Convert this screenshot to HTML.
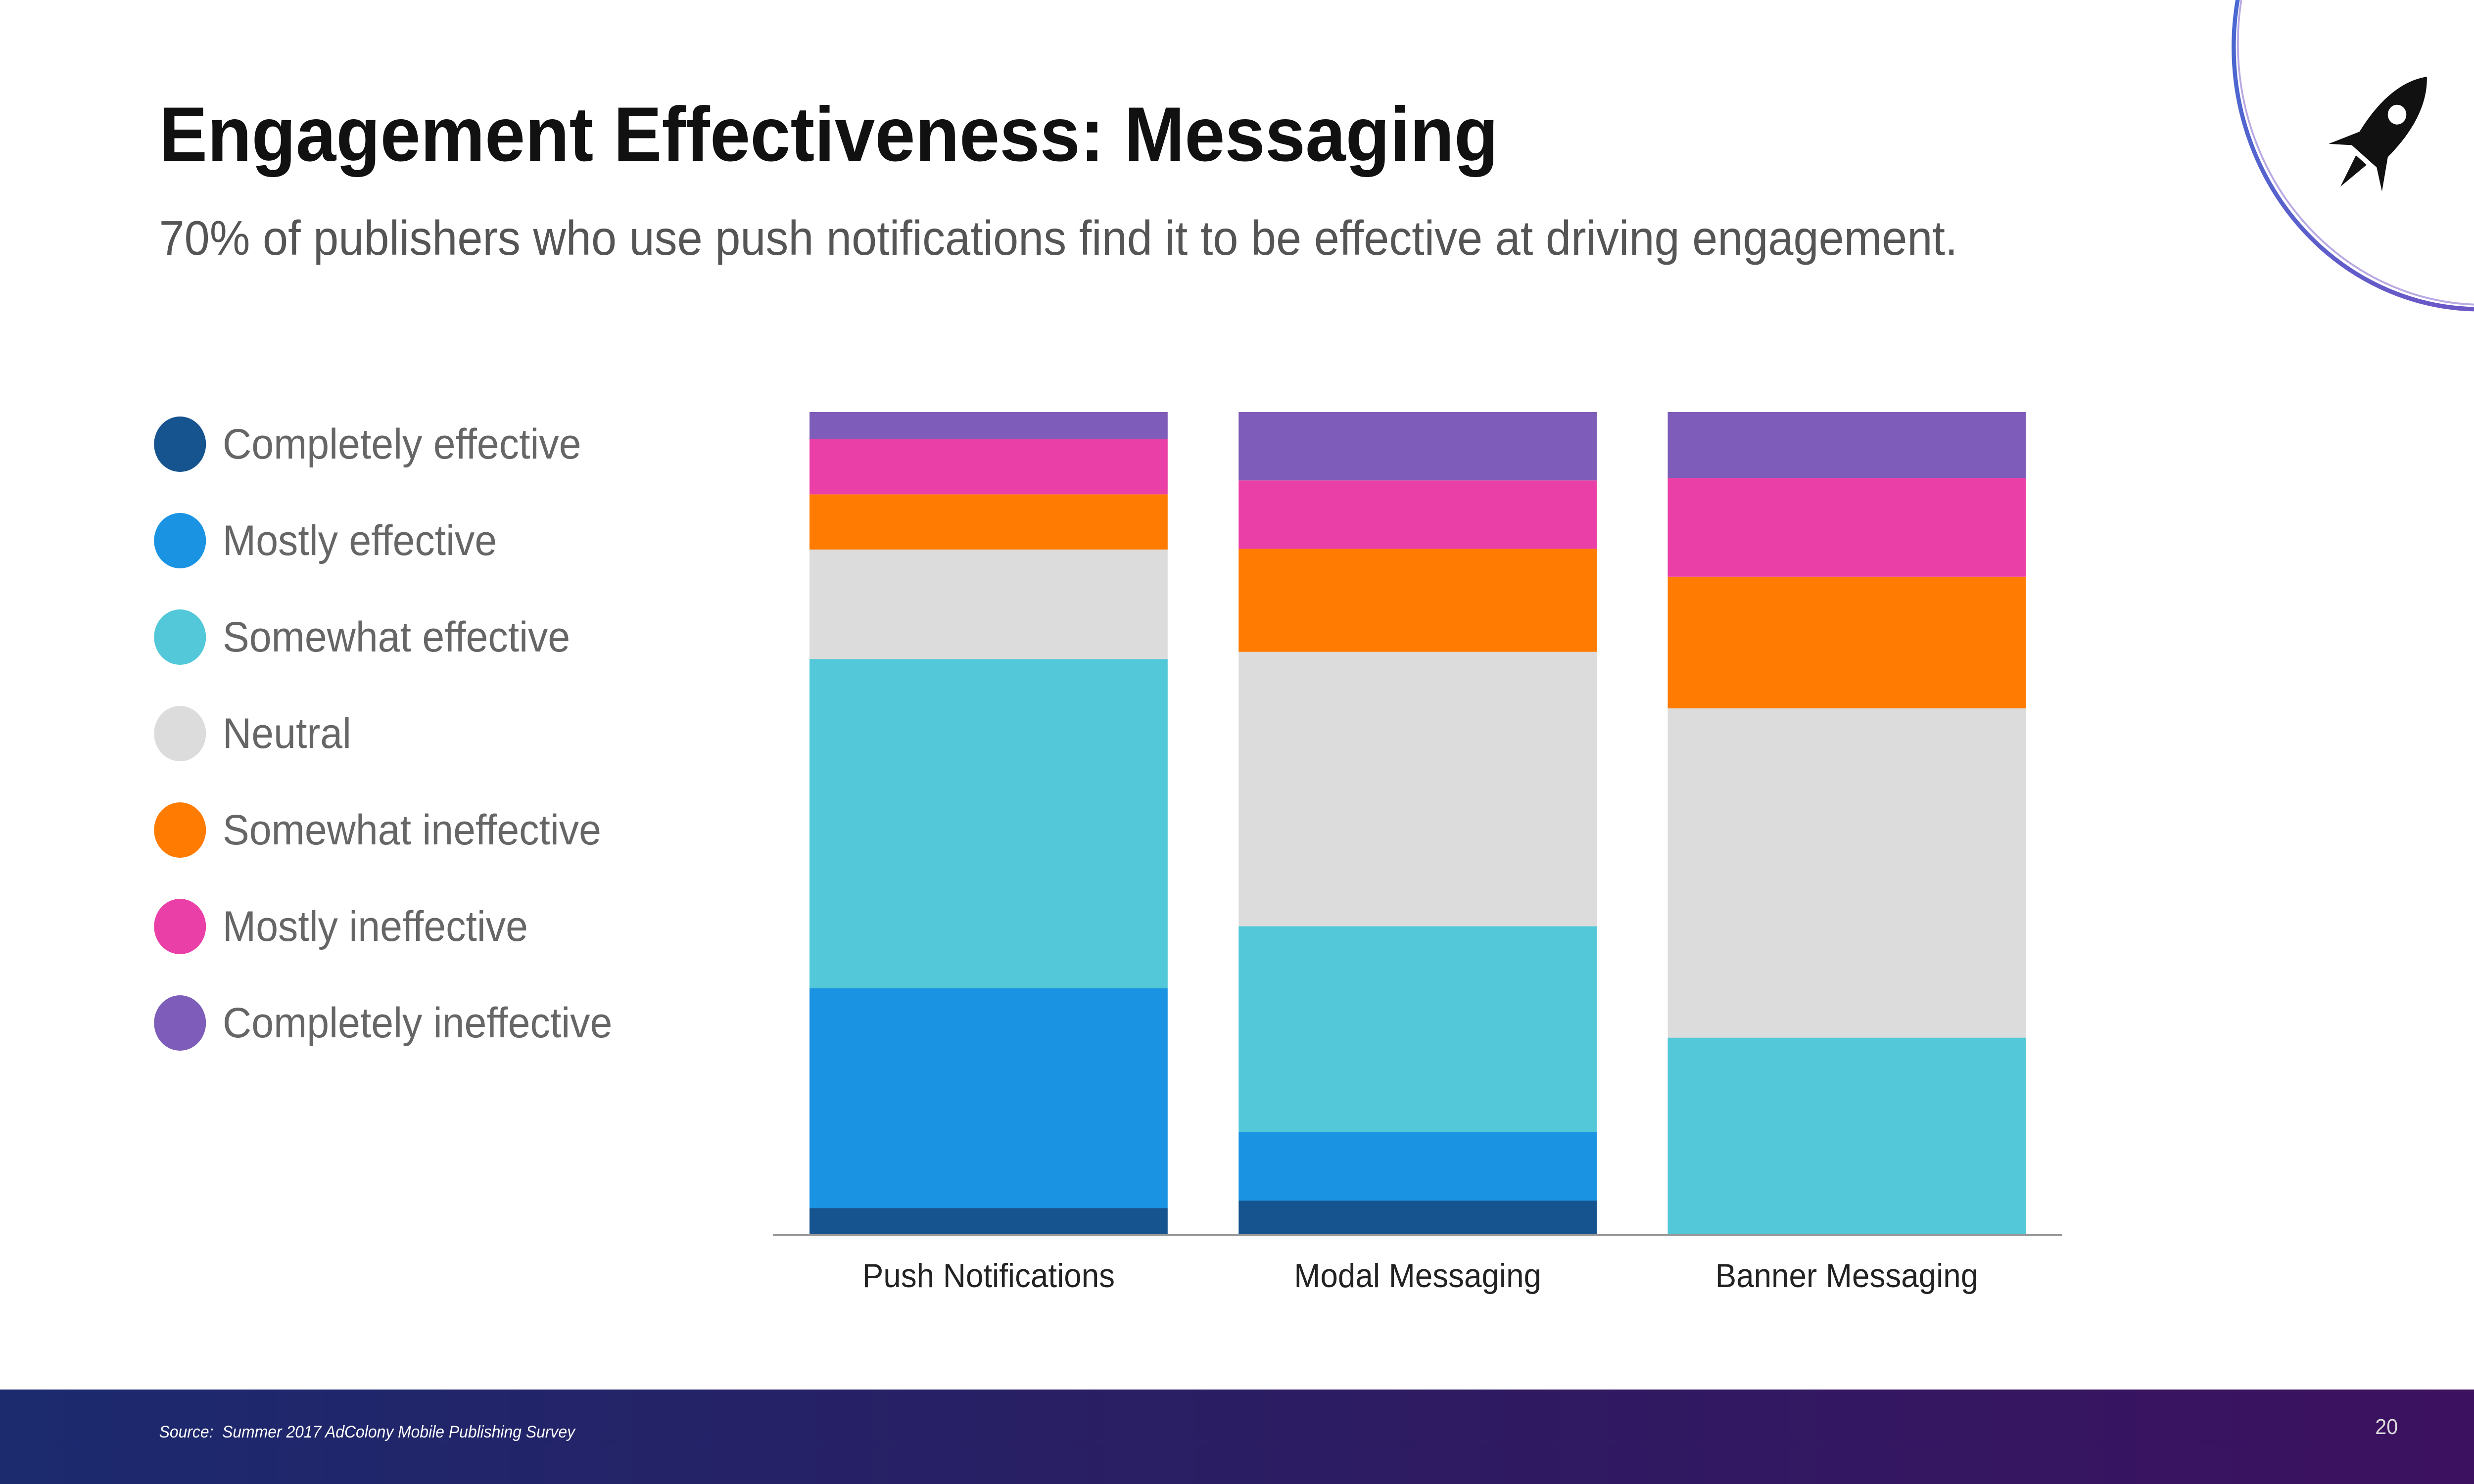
<!DOCTYPE html>
<html><head><meta charset="utf-8"><style>
html,body{margin:0;padding:0;overflow:hidden;background:#fff;}
#wrap{width:5333px;height:3000px;position:absolute;left:0;top:0;overflow:hidden;background:#fff;font-family:"Liberation Sans",sans-serif;transform-origin:0 0;}
#title{position:absolute;left:343px;top:183px;font-size:156px;font-weight:bold;color:#111;letter-spacing:0px;white-space:nowrap;}
#subtitle{position:absolute;left:343px;top:425px;font-size:98px;color:#555;white-space:nowrap;}
.leg{position:absolute;left:332px;height:112px;display:flex;align-items:center;}
.leg .dot{width:112px;height:112px;border-radius:50%;}
.leg span{margin-left:36px;font-size:86px;color:#666;white-space:nowrap;}
#footer{position:absolute;left:0;top:2809px;width:5333px;height:191px;background:linear-gradient(90deg,#1c2a6e,#2b1d63 50%,#3c1160);}
#source{position:absolute;left:343px;top:2876px;font-size:34px;font-style:italic;color:#fff;}
#page{position:absolute;left:5120px;top:2860px;font-size:44px;color:#ddd;}
</style></head><body>
<div id="wrap">
<div id="title">Engagement Effectiveness: Messaging</div>
<div id="subtitle">70% of publishers who use push notifications find it to be effective at driving engagement.</div>
<div id="legend"></div>
<svg id="chart" width="5333" height="3000" style="position:absolute;left:0;top:0">
<g id="bars"></g>
<line x1="1666" y1="2497" x2="4445" y2="2497" stroke="#999" stroke-width="4"/>
<g id="xlabels"></g>
</svg>
<svg width="5333" height="700" style="position:absolute;left:0;top:0">
<defs><linearGradient id="ag" x1="0" y1="0" x2="1" y2="1"><stop offset="0" stop-color="#3a6fd6"/><stop offset="1" stop-color="#7e4fc0"/></linearGradient></defs>
<circle cx="5345" cy="95" r="530" fill="none" stroke="url(#ag)" stroke-width="9"/>
<circle cx="5352" cy="88" r="528" fill="none" stroke="#8a6fd0" stroke-width="4" opacity="0.6"/>
<g transform="translate(5135,270) rotate(40)">
<path d="M0,-150 C45,-100 50,-20 35,60 L-35,60 C-50,-20 -45,-100 0,-150Z" fill="#111"/>
<path d="M-35,20 L-75,90 L-35,60Z M35,20 L75,90 L35,60Z" fill="#111"/>
<circle cx="0" cy="-50" r="20" fill="#fff"/>
<path d="M-15,70 L0,140 L15,70Z" fill="#111"/>
</g>
</svg>
<div id="footer"></div>
<div id="source">Source:&nbsp; Summer 2017 AdColony Mobile Publishing Survey</div>
<div id="page">20</div>
</div>
<script>
const categories = ["Push Notifications","Modal Messaging","Banner Messaging"];
const seriesNames = ["Completely effective","Mostly effective","Somewhat effective","Neutral","Somewhat ineffective","Mostly ineffective","Completely ineffective"];
const completelyEffective = [3.3, 4.2, 0];
const mostlyEffective = [26.7, 8.3, 0];
const somewhatEffective = [40, 25, 24];
const neutral = [13.3, 33.3, 40];
const somewhatIneffective = [6.7, 12.5, 16];
const mostlyIneffective = [6.7, 8.3, 12];
const completelyIneffective = [3.3, 8.3, 8];
const colors = ["#16548f","#1b93e3","#52c8d8","#dcdcdc","#ff7b02","#ea3fa6","#7e5cb9"];
const series = [completelyEffective,mostlyEffective,somewhatEffective,neutral,somewhatIneffective,mostlyIneffective,completelyIneffective];
const NS="http://www.w3.org/2000/svg";
const base=2497, top0=833, firstX=1745, step=925, bw=772;
const yScale=v=>(base-top0)*v;
const xPos=i=>firstX+i*step;
const bars=document.getElementById('bars');
categories.forEach((c,i)=>{
  let total=series.reduce((s,a)=>s+a[i],0), acc=0;
  series.forEach((arr,k)=>{
    const h=yScale(arr[i]/total);
    if(h<=0){return;}
    const r=document.createElementNS(NS,'rect');
    r.setAttribute('x',xPos(i));r.setAttribute('width',bw);
    r.setAttribute('y',base-acc-h);r.setAttribute('height',h);
    r.setAttribute('fill',colors[k]);
    
    
    bars.appendChild(r);acc+=h;
  });
  const t=document.createElementNS(NS,'text');
  t.setAttribute('x',xPos(i)+bw/2);t.setAttribute('y',2602);
  t.setAttribute('text-anchor','middle');t.setAttribute('font-size','68');
  t.setAttribute('font-family','Liberation Sans, sans-serif');t.setAttribute('fill','#222');
  t.textContent=c;
  
  
  document.getElementById('xlabels').appendChild(t);
});
const leg=document.getElementById('legend');
seriesNames.forEach((n,k)=>{
  const d=document.createElement('div');d.className='leg';d.style.top=(842+k*195)+'px';
  d.innerHTML='<div class="dot" style="background:'+colors[k]+'"></div><span>'+n+'</span>';
  
  
  leg.appendChild(d);
});
function fit(){
  const w=document.documentElement.clientWidth||window.innerWidth;
  const h=document.documentElement.clientHeight||window.innerHeight;
  const sx=w/5333, sy=h/3000;
  document.getElementById('wrap').style.transform='scale('+sx+','+sy+')';
}
fit();
window.addEventListener('resize',fit);
</script>
</body></html>
